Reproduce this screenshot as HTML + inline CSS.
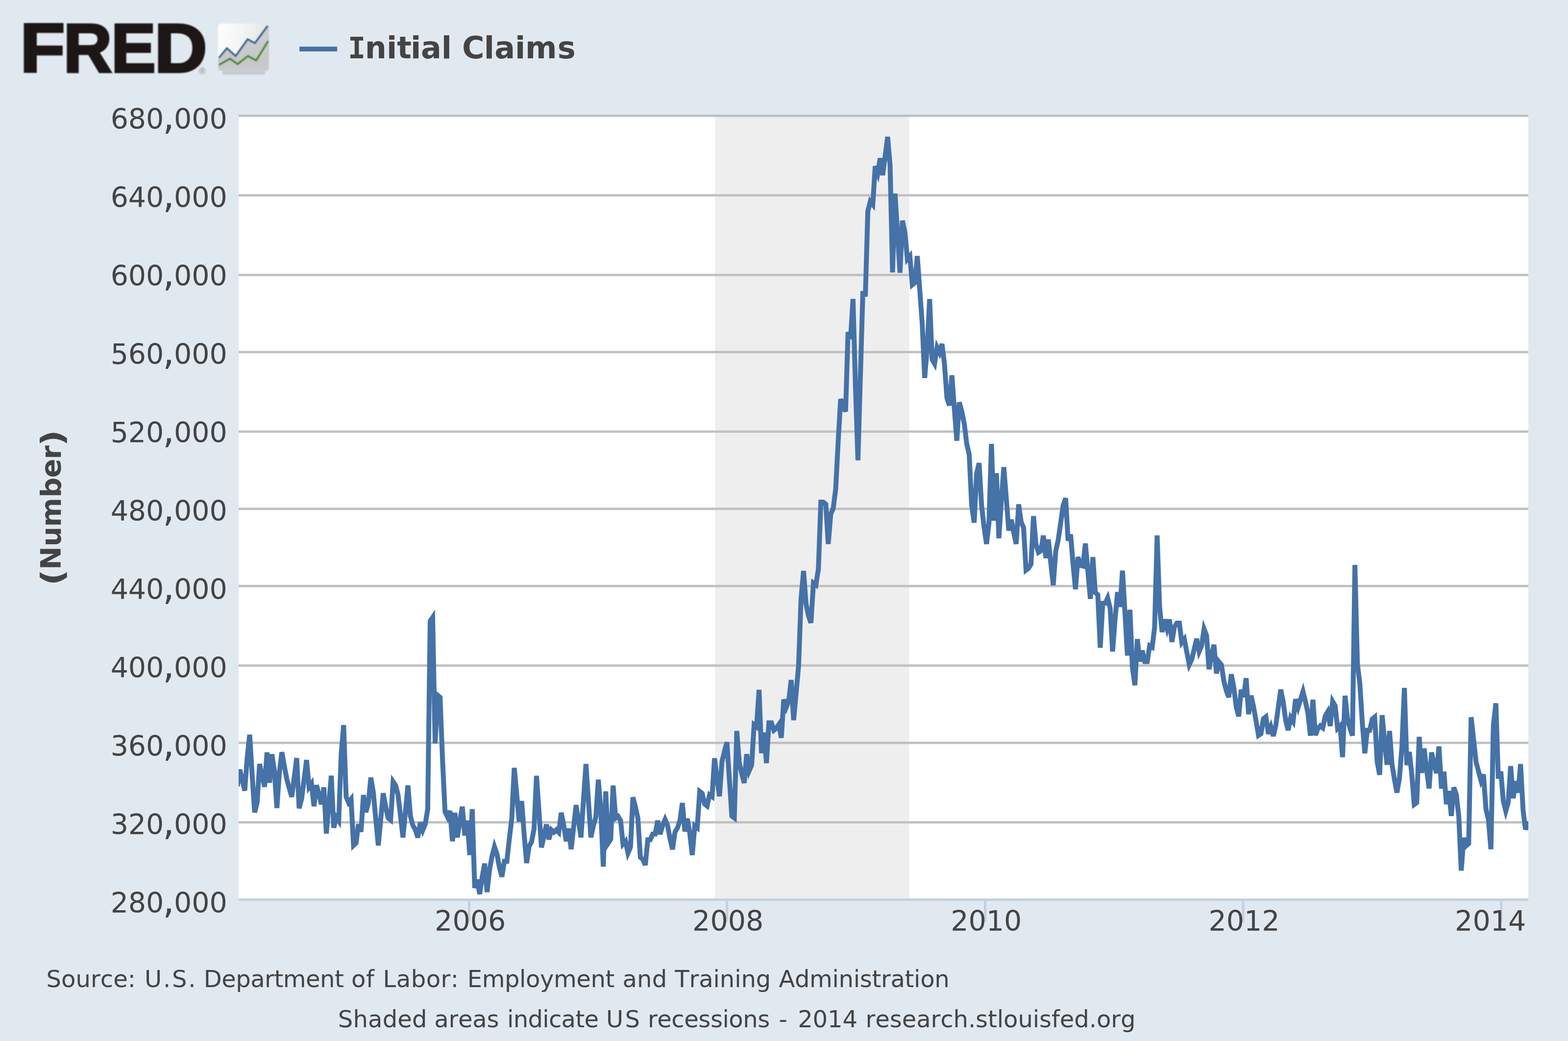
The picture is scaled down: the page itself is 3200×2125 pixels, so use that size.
<!DOCTYPE html>
<html lang="en"><head><meta charset="utf-8"><title>FRED - Initial Claims</title>
<style>
html,body{margin:0;padding:0;background:#E1E9F0;}
body{width:3200px;height:2125px;overflow:hidden;}
svg{display:block;}
text{font-family:"DejaVu Sans","Liberation Sans",sans-serif;fill:#444444;font-kerning:none;}
.b{font-weight:bold;}
.ax{font-size:57px;}
.ft{font-size:48px;}
</style></head><body>
<svg xmlns="http://www.w3.org/2000/svg" width="3200" height="2125" viewBox="0 0 3200 2125">
<defs>
<linearGradient id="ig" x1="0" y1="0" x2="1" y2="0.25"><stop offset="0" stop-color="#ffffff"/><stop offset="0.5" stop-color="#f3f4f4"/><stop offset="1" stop-color="#e2e4e4"/></linearGradient>
<linearGradient id="ig2" x1="0" y1="0" x2="0" y2="1"><stop offset="0" stop-color="#cfd0d3"/><stop offset="0.8" stop-color="#c6c7ca"/><stop offset="1" stop-color="#c9cbd0"/></linearGradient>
<filter id="ib" x="-10%" y="-10%" width="120%" height="120%"><feGaussianBlur stdDeviation="0.9"/></filter>
<clipPath id="pc"><rect x="487" y="196.5" width="2632" height="1640"/></clipPath>
<filter id="lb" x="-5%" y="-10%" width="110%" height="120%"><feGaussianBlur stdDeviation="1.3"/></filter>
</defs>
<rect width="3200" height="2125" fill="#E1E9F0"/>
<rect x="487" y="236.5" width="2632" height="1600" fill="#ffffff"/>
<rect x="1459.2" y="236.5" width="396.3" height="1600" fill="#eeeeee"/>
<rect x="487" y="234.0" width="2632" height="4.8" fill="#c0c0c0"/>
<rect x="487" y="396.3" width="2632" height="4.8" fill="#c0c0c0"/>
<rect x="487" y="558.9" width="2632" height="4.8" fill="#c0c0c0"/>
<rect x="487" y="716.3" width="2632" height="4.8" fill="#c0c0c0"/>
<rect x="487" y="878.6" width="2632" height="4.8" fill="#c0c0c0"/>
<rect x="487" y="1036.3" width="2632" height="4.8" fill="#c0c0c0"/>
<rect x="487" y="1193.9" width="2632" height="4.8" fill="#c0c0c0"/>
<rect x="487" y="1356.2" width="2632" height="4.8" fill="#c0c0c0"/>
<rect x="487" y="1514.0" width="2632" height="4.8" fill="#c0c0c0"/>
<rect x="487" y="1676.2" width="2632" height="4.8" fill="#c0c0c0"/>
<rect x="487" y="1834.1" width="2632" height="4.8" fill="#c0d0e0"/>
<rect x="955.1" y="1836.5" width="4.8" height="45.5" fill="#c0d0e0"/>
<rect x="1481.1" y="1836.5" width="4.8" height="45.5" fill="#c0d0e0"/>
<rect x="2008.1" y="1836.5" width="4.8" height="45.5" fill="#c0d0e0"/>
<rect x="2534.6" y="1836.5" width="4.8" height="45.5" fill="#c0d0e0"/>
<rect x="3061.4" y="1836.5" width="4.8" height="45.5" fill="#c0d0e0"/>
<path d="M484.4 1605.0L489.4 1571.0L494.4 1592.3L499.5 1614.0L504.5 1546.3L509.6 1499.8L514.6 1582.1L519.7 1658.4L524.7 1638.2L529.8 1559.5L534.8 1582.7L539.9 1606.1L544.9 1535.8L550.0 1597.8L555.0 1539.6L560.0 1574.4L565.1 1649.4L570.1 1577.0L575.2 1535.5L580.2 1563.6L585.3 1590.5L590.3 1608.9L595.4 1626.5L600.4 1586.9L605.5 1547.5L610.5 1650.1L615.5 1630.9L620.6 1591.1L625.6 1551.5L630.7 1606.7L635.7 1599.6L640.8 1645.8L645.8 1602.9L650.9 1621.1L655.9 1641.8L661.0 1607.2L666.0 1701.5L671.1 1641.8L676.1 1583.4L681.1 1689.7L686.2 1668.3L691.2 1675.5L696.3 1539.7L701.3 1480.1L706.4 1626.3L711.4 1638.3L716.5 1631.5L721.5 1725.6L726.6 1720.8L731.6 1682.5L736.7 1698.0L741.7 1623.0L746.7 1657.9L751.8 1639.2L756.8 1587.3L761.9 1617.7L766.9 1671.8L772.0 1725.8L777.0 1672.7L782.1 1619.3L787.1 1646.7L792.2 1670.0L797.2 1673.9L802.3 1595.7L807.3 1603.2L812.3 1622.3L817.4 1665.8L822.4 1709.5L827.5 1656.2L832.5 1603.3L837.6 1665.8L842.6 1684.9L847.7 1693.7L852.7 1709.8L857.8 1678.7L862.8 1694.5L867.9 1681.8L872.9 1651.5L877.9 1267.9L883.0 1260.4L888.0 1517.6L893.1 1419.2L898.1 1423.4L903.2 1552.6L908.2 1657.0L913.3 1667.7L918.3 1655.5L923.4 1717.2L928.4 1659.3L933.4 1709.5L938.5 1675.4L943.5 1646.8L948.6 1705.5L953.6 1675.1L958.7 1745.4L963.7 1651.7L968.8 1812.7L973.8 1795.6L978.9 1825.1L983.9 1791.3L989.0 1762.8L994.0 1821.0L999.0 1776.3L1004.1 1748.1L1009.1 1728.5L1014.2 1743.5L1019.2 1770.6L1024.3 1789.6L1029.3 1758.2L1034.4 1758.2L1039.4 1712.7L1044.5 1670.0L1049.5 1567.4L1054.6 1622.5L1059.6 1677.5L1064.6 1635.2L1069.7 1703.6L1074.7 1761.7L1079.8 1727.6L1084.8 1718.8L1089.9 1692.0L1094.9 1583.7L1100.0 1656.8L1105.0 1729.8L1110.1 1706.8L1115.1 1683.1L1120.2 1713.5L1125.2 1694.1L1130.2 1698.9L1135.3 1694.1L1140.3 1699.2L1145.4 1659.1L1150.4 1683.9L1155.5 1717.3L1160.5 1691.3L1165.6 1733.5L1170.6 1688.7L1175.7 1643.4L1180.7 1676.0L1185.7 1709.3L1190.8 1632.9L1195.8 1559.7L1200.9 1634.5L1205.9 1709.3L1211.0 1685.5L1216.0 1668.0L1221.1 1591.6L1226.1 1653.6L1231.2 1769.1L1236.2 1615.5L1241.3 1720.8L1246.3 1713.3L1251.3 1603.6L1256.4 1669.9L1261.4 1666.4L1266.5 1675.2L1271.5 1723.0L1276.6 1717.4L1281.6 1741.3L1286.7 1729.4L1291.7 1627.5L1296.8 1647.3L1301.8 1670.4L1306.9 1750.1L1311.9 1754.1L1316.9 1765.9L1322.0 1714.2L1327.0 1714.2L1332.1 1702.6L1337.1 1702.6L1342.2 1675.2L1347.2 1702.9L1352.3 1684.9L1357.3 1672.9L1362.4 1685.0L1367.4 1712.2L1372.5 1733.8L1377.5 1698.4L1382.5 1690.2L1387.6 1675.4L1392.6 1639.3L1397.7 1697.2L1402.7 1671.0L1407.8 1701.7L1412.8 1745.4L1417.9 1685.9L1422.9 1689.8L1428.0 1615.5L1433.0 1619.5L1438.0 1641.4L1443.1 1645.3L1448.1 1622.5L1453.2 1626.2L1458.2 1547.9L1463.3 1588.4L1468.3 1625.4L1473.4 1554.9L1478.4 1534.2L1483.5 1515.2L1488.5 1590.0L1493.6 1665.9L1498.6 1669.7L1503.6 1492.1L1508.7 1556.5L1513.7 1578.8L1518.8 1598.3L1523.8 1539.5L1528.9 1573.4L1533.9 1561.8L1539.0 1479.5L1544.0 1483.5L1549.1 1408.2L1554.1 1537.5L1559.2 1495.5L1564.2 1557.8L1569.2 1475.4L1574.3 1475.4L1579.3 1490.7L1584.4 1486.4L1589.4 1479.0L1594.5 1506.1L1599.5 1427.9L1604.6 1443.6L1609.6 1430.9L1614.7 1388.0L1619.7 1470.1L1624.8 1414.0L1629.8 1358.5L1634.8 1222.6L1639.9 1165.4L1644.9 1232.2L1650.0 1257.1L1655.0 1271.4L1660.1 1190.1L1665.1 1193.9L1670.2 1161.4L1675.2 1025.1L1680.3 1025.1L1685.3 1029.3L1690.3 1110.5L1695.4 1048.8L1700.4 1038.3L1705.5 998.1L1710.5 902.4L1715.6 814.8L1720.6 827.8L1725.7 840.1L1730.7 677.9L1735.8 692.3L1740.8 610.2L1745.9 790.0L1750.9 939.6L1755.9 767.9L1761.0 594.5L1766.0 605.0L1771.1 430.8L1776.1 411.4L1781.2 417.6L1786.2 339.2L1791.3 353.3L1796.3 323.1L1801.4 357.6L1806.4 318.8L1811.5 279.4L1816.5 337.5L1821.5 556.2L1826.6 395.2L1831.6 475.2L1836.7 556.7L1841.7 450.4L1846.8 474.5L1851.8 529.0L1856.9 523.0L1861.9 581.4L1867.0 577.1L1872.0 522.6L1877.1 592.1L1882.1 661.0L1887.1 771.5L1892.2 712.0L1897.2 610.4L1902.3 733.9L1907.3 742.5L1912.4 709.1L1917.4 719.6L1922.5 702.0L1927.5 743.5L1932.6 812.8L1937.6 827.7L1942.6 766.1L1947.7 835.0L1952.7 899.7L1957.8 821.4L1962.8 840.0L1967.9 864.9L1972.9 906.0L1978.0 928.0L1983.0 1031.3L1988.1 1066.9L1993.1 966.3L1998.2 945.4L2003.2 1031.3L2008.2 1075.3L2013.3 1110.5L2018.3 1067.7L2023.4 906.2L2028.4 1062.7L2033.5 965.9L2038.5 1098.7L2043.6 1021.8L2048.6 953.6L2053.7 1017.9L2058.7 1083.0L2063.8 1060.8L2068.8 1086.8L2073.8 1110.5L2078.9 1029.6L2083.9 1065.2L2089.0 1077.7L2094.0 1163.8L2099.1 1159.9L2104.1 1151.3L2109.2 1053.6L2114.2 1111.1L2119.3 1127.4L2124.3 1124.2L2129.3 1093.2L2134.4 1139.1L2139.4 1101.2L2144.5 1149.4L2149.5 1194.6L2154.6 1124.9L2159.6 1102.3L2164.7 1067.1L2169.7 1031.7L2174.8 1017.0L2179.8 1103.7L2184.9 1091.2L2189.9 1151.3L2194.9 1202.8L2200.0 1137.2L2205.0 1154.2L2210.1 1155.5L2215.1 1109.4L2220.2 1166.6L2225.2 1222.5L2230.3 1137.2L2235.3 1209.5L2240.4 1214.1L2245.4 1322.2L2250.5 1231.5L2255.5 1231.5L2260.5 1220.6L2265.6 1241.7L2270.6 1329.9L2275.7 1263.7L2280.7 1208.8L2285.8 1238.8L2290.8 1164.9L2295.9 1252.2L2300.9 1338.1L2306.0 1244.7L2311.0 1362.0L2316.1 1398.7L2321.1 1304.6L2326.1 1350.2L2331.2 1328.0L2336.2 1350.5L2341.3 1350.5L2346.3 1318.2L2351.4 1321.1L2356.4 1279.9L2361.5 1093.0L2366.5 1238.8L2371.6 1290.3L2376.6 1264.6L2381.7 1283.2L2386.7 1264.6L2391.7 1310.4L2396.8 1279.6L2401.8 1272.1L2406.9 1272.1L2411.9 1311.5L2417.0 1304.8L2422.0 1330.9L2427.1 1356.7L2432.1 1346.2L2437.2 1324.6L2442.2 1303.9L2447.2 1329.9L2452.3 1317.9L2457.3 1284.0L2462.4 1297.4L2467.4 1366.1L2472.5 1336.6L2477.5 1316.1L2482.6 1374.7L2487.6 1351.0L2492.7 1357.1L2497.7 1390.2L2502.8 1410.3L2507.8 1423.1L2512.8 1376.4L2517.9 1402.6L2522.9 1442.8L2528.0 1462.3L2533.0 1408.0L2538.1 1423.1L2543.1 1384.3L2548.2 1457.9L2553.2 1420.0L2558.3 1442.8L2563.3 1471.5L2568.4 1501.2L2573.4 1497.9L2578.4 1467.3L2583.5 1463.3L2588.5 1498.1L2593.6 1483.9L2598.6 1502.5L2603.7 1480.7L2608.7 1444.4L2613.8 1407.8L2618.8 1432.9L2623.9 1471.1L2628.9 1490.5L2634.0 1465.0L2639.0 1472.7L2644.0 1427.3L2649.1 1444.0L2654.1 1428.1L2659.2 1411.8L2664.2 1432.5L2669.3 1455.8L2674.3 1501.6L2679.4 1428.3L2684.4 1500.8L2689.5 1487.4L2694.5 1481.7L2699.5 1485.7L2704.6 1461.6L2709.6 1453.0L2714.7 1481.9L2719.7 1431.9L2724.8 1440.5L2729.8 1486.8L2734.9 1481.7L2739.9 1545.6L2745.0 1420.3L2750.0 1467.3L2755.1 1486.5L2760.1 1501.8L2765.1 1153.2L2770.2 1354.8L2775.2 1395.6L2780.3 1476.8L2785.3 1537.7L2790.4 1490.8L2795.4 1490.8L2800.5 1467.8L2805.5 1463.8L2810.6 1555.1L2815.6 1581.7L2820.7 1460.0L2825.7 1513.9L2830.7 1561.2L2835.8 1492.1L2840.8 1559.8L2845.9 1591.4L2850.9 1618.0L2856.0 1588.5L2861.0 1525.4L2866.1 1404.1L2871.1 1561.8L2876.2 1535.0L2881.2 1580.9L2886.2 1642.1L2891.3 1638.3L2896.3 1504.2L2901.4 1577.8L2906.4 1527.9L2911.5 1571.3L2916.5 1609.4L2921.6 1535.9L2926.6 1559.8L2931.7 1578.2L2936.7 1523.7L2941.8 1609.6L2946.8 1575.2L2951.8 1641.5L2956.9 1614.8L2961.9 1665.5L2967.0 1607.3L2972.0 1621.7L2977.1 1666.0L2982.1 1777.0L2987.2 1710.5L2992.2 1726.5L2997.3 1722.0L3002.3 1464.0L3007.4 1510.0L3012.4 1555.4L3017.4 1574.5L3022.5 1593.6L3027.5 1580.9L3032.6 1651.7L3037.6 1672.8L3042.7 1733.5L3047.7 1480.9L3052.8 1435.6L3057.8 1589.4L3062.9 1575.0L3067.9 1634.5L3073.0 1655.4L3078.0 1638.1L3083.0 1563.8L3088.1 1629.4L3093.1 1594.8L3098.2 1618.1L3103.2 1559.8L3108.3 1653.6L3113.3 1693.5L3118.4 1676.0" fill="none" stroke="#4572A7" stroke-width="10" stroke-linejoin="miter" stroke-miterlimit="4" stroke-linecap="butt" clip-path="url(#pc)"/>
<text class="ax" y="263.0"><tspan x="225.7 261.8 298.0">680</tspan><tspan font-size="76" x="332.1" dy="0.6">,</tspan><tspan x="355.1 391.2 427.4" dy="-0.6">000</tspan></text>
<text class="ax" y="423.0"><tspan x="225.7 261.8 298.0">640</tspan><tspan font-size="76" x="332.1" dy="0.6">,</tspan><tspan x="355.1 391.2 427.4" dy="-0.6">000</tspan></text>
<text class="ax" y="583.0"><tspan x="225.7 261.8 298.0">600</tspan><tspan font-size="76" x="332.1" dy="0.6">,</tspan><tspan x="355.1 391.2 427.4" dy="-0.6">000</tspan></text>
<text class="ax" y="743.0"><tspan x="225.7 261.8 298.0">560</tspan><tspan font-size="76" x="332.1" dy="0.6">,</tspan><tspan x="355.1 391.2 427.4" dy="-0.6">000</tspan></text>
<text class="ax" y="903.0"><tspan x="225.7 261.8 298.0">520</tspan><tspan font-size="76" x="332.1" dy="0.6">,</tspan><tspan x="355.1 391.2 427.4" dy="-0.6">000</tspan></text>
<text class="ax" y="1063.0"><tspan x="225.7 261.8 298.0">480</tspan><tspan font-size="76" x="332.1" dy="0.6">,</tspan><tspan x="355.1 391.2 427.4" dy="-0.6">000</tspan></text>
<text class="ax" y="1223.0"><tspan x="225.7 261.8 298.0">440</tspan><tspan font-size="76" x="332.1" dy="0.6">,</tspan><tspan x="355.1 391.2 427.4" dy="-0.6">000</tspan></text>
<text class="ax" y="1383.0"><tspan x="225.7 261.8 298.0">400</tspan><tspan font-size="76" x="332.1" dy="0.6">,</tspan><tspan x="355.1 391.2 427.4" dy="-0.6">000</tspan></text>
<text class="ax" y="1543.0"><tspan x="225.7 261.8 298.0">360</tspan><tspan font-size="76" x="332.1" dy="0.6">,</tspan><tspan x="355.1 391.2 427.4" dy="-0.6">000</tspan></text>
<text class="ax" y="1703.0"><tspan x="225.7 261.8 298.0">320</tspan><tspan font-size="76" x="332.1" dy="0.6">,</tspan><tspan x="355.1 391.2 427.4" dy="-0.6">000</tspan></text>
<text class="ax" y="1863.0"><tspan x="225.7 261.8 298.0">280</tspan><tspan font-size="76" x="332.1" dy="0.6">,</tspan><tspan x="355.1 391.2 427.4" dy="-0.6">000</tspan></text>
<text class="ax" x="887.1 923.4 959.7 995.9" y="1900">2006</text>
<text class="ax" x="1413.1 1449.4 1485.7 1521.9" y="1900">2008</text>
<text class="ax" x="1940.2 1976.5 2012.8 2049.0" y="1900">2010</text>
<text class="ax" x="2466.4 2502.7 2539.0 2575.2" y="1900">2012</text>
<text class="ax" x="2969.1 3005.4 3041.7 3077.9" y="1900">2014</text>
<g transform="translate(124.2 1189.1) rotate(-90)"><text class="b" font-size="62" x="-6.3" y="3.5" textLength="33.4" lengthAdjust="spacingAndGlyphs">(</text><text class="b" font-size="57" x="26.0 73.6 113.7 173.5 213.9 251.6" y="0">Number</text><text class="b" font-size="62" x="278.3" y="3.5" textLength="33.4" lengthAdjust="spacingAndGlyphs">)</text></g>
<rect x="611" y="95.2" width="77" height="9.8" fill="#4572A7"/>
<text class="b" y="118.9" font-size="62"><tspan x="710.0" font-size="60" style="font-family:'DejaVu Sans Mono','DejaVu Sans',monospace">I</tspan><tspan x="744.8 788.9 810.3 837.9 859.1 900.7 921.9 942.9 987.8 1009.3 1050.9 1071.9 1137.7">nitial Claims</tspan></text>
<text class="ft" x="94.4 125.0 154.4 184.9 204.7 231.2 260.8 277.0 294.9 332.9 351.0 384.3 399.6 415.7 452.2 481.2 511.2 540.1 559.4 577.7 624.0 653.0 682.9 701.7 717.1 746.9 763.8 781.6 808.8 838.8 869.7 899.6 919.8 936.0 953.8 983.7 1030.0 1060.1 1073.0 1102.0 1130.0 1176.3 1205.4 1235.4 1254.2 1270.5 1300.1 1330.7 1361.2 1377.2 1406.5 1426.2 1455.5 1468.8 1499.2 1512.4 1542.8 1573.3 1589.4 1622.0 1652.1 1698.6 1711.6 1741.8 1754.8 1779.5 1798.1 1817.5 1846.6 1865.1 1878.2 1907.3" y="2015.4">Source: U.S. Department of Labor: Employment and Training Administration</text>
<text class="ft" x="689.8 720.5 751.1 780.7 811.3 841.0 871.5 886.3 915.5 935.0 964.3 993.5 1018.5 1035.1 1047.7 1077.5 1107.3 1119.9 1145.6 1174.4 1192.5 1222.1 1236.9 1275.6 1306.1 1321.9 1341.2 1370.3 1396.3 1425.3 1449.9 1474.5 1487.3 1516.3 1546.2 1571.2 1589.5 1606.8 1628.2 1658.6 1689.0 1719.5 1750.0 1766.6 1786.3 1815.8 1840.7 1870.2 1899.6 1919.2 1945.6 1975.9 1991.1 2016.1 2034.8 2048.1 2077.4 2107.8 2121.0 2146.0 2162.8 2192.3 2222.7 2237.9 2267.2 2286.9" y="2097.2">Shaded areas indicate US recessions - 2014 research.stlouisfed.org</text>
<g filter="url(#lb)" style="font-family:'Liberation Sans',sans-serif;font-weight:bold;fill:#1b1819;stroke:#1b1819;stroke-width:4.5;stroke-linejoin:miter">
<text x="41.0" y="147.3" font-size="140.7" textLength="91.7" lengthAdjust="spacingAndGlyphs" style="font-family:'Liberation Sans',sans-serif;fill:#1b1819">F</text>
<text x="129.5" y="147.3" font-size="140.7" textLength="99.0" lengthAdjust="spacingAndGlyphs" style="font-family:'Liberation Sans',sans-serif;fill:#1b1819">R</text>
<text x="226.7" y="147.3" font-size="140.7" textLength="91.2" lengthAdjust="spacingAndGlyphs" style="font-family:'Liberation Sans',sans-serif;fill:#1b1819">E</text>
<text x="315.1" y="147.3" font-size="140.7" textLength="107.9" lengthAdjust="spacingAndGlyphs" style="font-family:'Liberation Sans',sans-serif;fill:#1b1819">D</text>
</g>
<text x="406" y="151" font-size="19" style="font-family:'Liberation Sans',sans-serif;fill:#8a8a8c" filter="url(#lb)">®</text>
<g filter="url(#ib)">
<rect x="454" y="140" width="87" height="12.6" rx="2" fill="#c6cad3"/>
<rect x="445" y="48" width="104" height="96.5" rx="7" fill="url(#ig)"/>
<path d="M445 119.5 L463 98.3 L480.9 114.4 L505.4 80 L520.2 88 L549 50 L549 137.5 Q549 144.5 542 144.5 L452 144.5 Q445 144.5 445 137.5 Z" fill="url(#ig2)"/>
<path d="M446.8 118 L463 98.3 L480.9 114.4 L505.4 80 L520.2 88 L546.2 52.8" fill="none" stroke="#27688f" stroke-width="4.2" stroke-linejoin="round"/>
<path d="M447 132.5 L469.3 119.7 L484.9 130.9 L505.9 114.4 L522.9 123.3 L547.2 83.8" fill="none" stroke="#468a18" stroke-width="4.2" stroke-linejoin="round"/>
</g>
</svg>
</body></html>
